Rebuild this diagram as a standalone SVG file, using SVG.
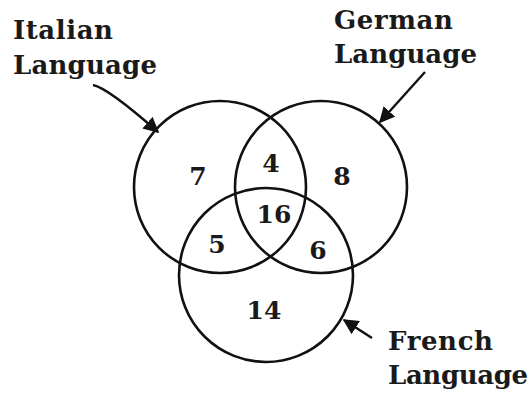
<svg xmlns="http://www.w3.org/2000/svg" width="532" height="393" viewBox="0 0 532 393">
<defs>
<style>
.c{fill:none;stroke:#111;stroke-width:2.6}
.lbl{font-family:"DejaVu Serif","Liberation Serif",serif;font-weight:bold;font-size:26px;fill:#1a1a1a}
.n{font-family:"DejaVu Serif","Liberation Serif",serif;font-weight:bold;font-size:25px;fill:#1a1a1a;text-anchor:middle}
.a{fill:none;stroke:#111;stroke-width:2.4}
</style>
<marker id="ah" viewBox="0 0 10 10" refX="9" refY="5" markerWidth="6.5" markerHeight="6.5" markerUnits="strokeWidth" orient="auto">
<path d="M0,0 L10,5 L0,10 Z" fill="#111"/>
</marker>
</defs>
<rect width="532" height="393" fill="#fff"/>
<g id="italian">
<circle class="c" cx="220" cy="187" r="86"/>
<text class="lbl" x="13" y="39" textLength="100" lengthAdjust="spacing">Italian</text>
<text class="lbl" x="13" y="74" textLength="144" lengthAdjust="spacing">Language</text>
</g>
<g id="german">
<circle class="c" cx="321" cy="187" r="86"/>
<text class="lbl" x="334" y="29" textLength="119" lengthAdjust="spacing">German</text>
<text class="lbl" x="334" y="63" textLength="143" lengthAdjust="spacing">Language</text>
</g>
<g id="french">
<circle class="c" cx="266" cy="275" r="87"/>
<text class="lbl" x="388" y="350" textLength="105" lengthAdjust="spacing">French</text>
<text class="lbl" x="388" y="384" textLength="140" lengthAdjust="spacing">Language</text>
</g>
<g id="regions">
<text class="n" x="198" y="185">7</text>
<text class="n" x="271" y="172">4</text>
<text class="n" x="342" y="185">8</text>
<text class="n" x="274" y="223">16</text>
<text class="n" x="217" y="253">5</text>
<text class="n" x="318" y="259">6</text>
<text class="n" x="264" y="319">14</text>
</g>
<g id="connectors">
<path class="a" d="M93,85 Q108,88 158,132" marker-end="url(#ah)"/>
<path class="a" d="M425,72 L380,122" marker-end="url(#ah)"/>
<path class="a" d="M372,338 L344,320" marker-end="url(#ah)"/>
</g>
</svg>
